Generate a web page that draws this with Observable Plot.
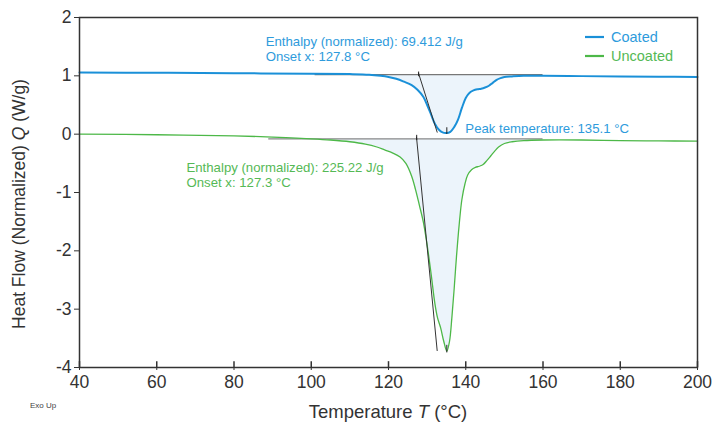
<!DOCTYPE html>
<html><head><meta charset="utf-8">
<script src="https://cdn.jsdelivr.net/npm/d3@7"></script>
<script src="https://cdn.jsdelivr.net/npm/@observablehq/plot@0.6"></script>
<style>body{margin:0;background:#fff}svg{display:block}</style>
</head><body><div id="chart"></div>
<script>
const xTicks = [40,60,80,100,120,140,160,180,200];
const yTicks = [-4,-3,-2,-1,0,1,2];
const seriesNames = ["Coated","Uncoated"];

const coatedT = [40,60,80,100,110,115,118,120,122,124,126,127.5,129,130,131,132,133,134,135,136,137,138,139,140,141,142,143,144,145,146,147,148,149,150,152,155,160,170,180,190,200];
const coatedQ = [1.058,1.052,1.045,1.035,1.03,1.02,1.00,0.98,0.95,0.90,0.84,0.76,0.64,0.50,0.34,0.18,0.08,0.03,0.02,0.04,0.12,0.25,0.45,0.62,0.71,0.75,0.77,0.78,0.80,0.83,0.88,0.93,0.96,0.98,0.99,1.00,1.00,0.995,0.99,0.985,0.98];

const uncoatedT = [40,60,80,90,100,105,110,114,117,119,121,123,124.5,126,127,128,129,130,131,132,132.7,133.5,134.3,135.1,135.8,136.4,137,137.6,138.3,139,139.8,140.5,141.5,142.5,143.5,144.5,145.5,146.5,147.5,148.5,150,152,155,160,170,180,190,200];
const uncoatedQ = [0.0,-0.01,-0.03,-0.05,-0.08,-0.10,-0.13,-0.17,-0.22,-0.27,-0.32,-0.39,-0.50,-0.72,-0.95,-1.22,-1.50,-1.90,-2.38,-2.90,-3.15,-3.32,-3.55,-3.72,-3.55,-3.15,-2.65,-2.10,-1.55,-1.12,-0.85,-0.70,-0.61,-0.57,-0.55,-0.52,-0.45,-0.37,-0.29,-0.22,-0.16,-0.13,-0.11,-0.10,-0.10,-0.11,-0.115,-0.12];

// integration baselines [T start, T end, Q level]
const coatedBaseline = [101, 160, 1.022];
const uncoatedBaseline = [89, 160, -0.082];
// onset tangent lines [[T,Q],[T,Q]]
const coatedTangent = [[127.77,1.046],[132.6,0.034]];
const uncoatedTangent = [[127.25,-0.05],[132.6,-3.71]];
const peakT = 135.1;
const coatedPeakTick = [0.11,-0.005];
const uncoatedPeakTick = [-3.62,-3.75];
const coatedOnsetTick = [127.8, 1.065, 0.985];
const uncoatedOnsetTick = [127.3, -0.02, -0.11];

const coatedText = "Enthalpy (normalized): 69.412 J/g\nOnset x: 127.8 °C";
const uncoatedText = "Enthalpy (normalized): 225.22 J/g\nOnset x: 127.3 °C";
const peakText = "Peak temperature: 135.1 °C";

const blue = "#1a90d8", green = "#4db848";
const blueText = "#2e9bdc", greenText = "#55b955";

const coated = coatedT.map((t,i)=>({T:t,Q:coatedQ[i]}));
const uncoated = uncoatedT.map((t,i)=>({T:t,Q:uncoatedQ[i]}));
const cFill = coated.filter(d=>d.T>=coatedBaseline[0]&&d.T<=coatedBaseline[1]).map(d=>({T:d.T,Q:d.Q,B:coatedBaseline[2]}));
const uFill = uncoated.filter(d=>d.T>=uncoatedBaseline[0]&&d.T<=uncoatedBaseline[1]).map(d=>({T:d.T,Q:d.Q,B:uncoatedBaseline[2]}));

const plot = Plot.plot({
  width: 715, height: 426,
  marginLeft: 79, marginRight: 18, marginTop: 17, marginBottom: 59,
  style: {fontFamily: "'Liberation Sans', Arial, sans-serif", color: "#333", background: "#fff"},
  x: {domain: [40,200], label: null},
  y: {domain: [-4,2], label: null},
  marks: [
    Plot.areaY(cFill, {x:"T", y1:"B", y2:"Q", fill:"#eaf3fb", fillOpacity:0.9, curve:"catmull-rom"}),
    Plot.areaY(uFill, {x:"T", y1:"B", y2:"Q", fill:"#eaf3fb", fillOpacity:0.9, curve:"catmull-rom"}),
    Plot.ruleY([coatedBaseline[2]], {x1: coatedBaseline[0], x2: coatedBaseline[1], stroke:"#777", strokeWidth:1.3}),
    Plot.ruleY([uncoatedBaseline[2]], {x1: uncoatedBaseline[0], x2: uncoatedBaseline[1], stroke:"#888", strokeWidth:1.3}),
    Plot.line(coated, {x:"T", y:"Q", stroke: blue, strokeWidth: 2, curve:"catmull-rom"}),
    Plot.line(uncoated, {x:"T", y:"Q", stroke: green, strokeWidth: 1.3, curve:"catmull-rom"}),
    Plot.line(coatedTangent, {x: d=>d[0], y: d=>d[1], stroke:"#333", strokeWidth:1}),
    Plot.line(uncoatedTangent, {x: d=>d[0], y: d=>d[1], stroke:"#333", strokeWidth:1}),
    Plot.ruleX([peakT], {y1: coatedPeakTick[0], y2: coatedPeakTick[1], stroke:"#222", strokeWidth:1}),
    Plot.ruleX([peakT], {y1: uncoatedPeakTick[0], y2: uncoatedPeakTick[1], stroke:"#222", strokeWidth:1}),
    Plot.ruleX([coatedOnsetTick[0]], {y1: coatedOnsetTick[1], y2: coatedOnsetTick[2], stroke:"#222", strokeWidth:1}),
    Plot.ruleX([uncoatedOnsetTick[0]], {y1: uncoatedOnsetTick[1], y2: uncoatedOnsetTick[2], stroke:"#222", strokeWidth:1}),
    Plot.text([coatedText], {x: 88.2, y: 1.46, text: d=>d, textAnchor:"start", fill: blueText, fontSize: 13.2, lineHeight: 1.15}),
    Plot.text([uncoatedText], {x: 67.7, y: -0.69, text: d=>d, textAnchor:"start", fill: greenText, fontSize: 13.2, lineHeight: 1.15}),
    Plot.text([peakText], {x: 139.9, y: 0.098, text: d=>d, textAnchor:"start", fill: blueText, fontSize: 13.2}),
    Plot.frame({stroke:"#333", strokeWidth:1.5}),
    Plot.ruleX(xTicks, {y1: -4, y2: -3.9, stroke:"#333", strokeWidth:1.5}),
    Plot.axisX({ticks: xTicks, tickSize: 3, tickPadding: 5, fontSize: 17.5, label: null, fill:"#333", tickFormat: d => String(d)}),
    Plot.axisY({ticks: yTicks, tickSize: 5, tickPadding: 3, fontSize: 17.5, label: null, fill:"#333", tickFormat: d => String(d)})
  ]
});

const svg = d3.select(plot);
// axis titles
const xl = svg.append("text").attr("x", 388).attr("y", 418).attr("text-anchor","middle")
  .attr("font-size", 18.5).attr("fill", "#333");
xl.append("tspan").text("Temperature ");
xl.append("tspan").attr("font-style","italic").text("T");
xl.append("tspan").text(" (°C)");
const yl = svg.append("text").attr("transform","translate(25,204) rotate(-90)").attr("text-anchor","middle")
  .attr("font-size", 17.5).attr("fill", "#333");
yl.append("tspan").text("Heat Flow (Normalized) ");
yl.append("tspan").attr("font-style","italic").text("Q");
yl.append("tspan").text(" (W/g)");
svg.append("text").attr("x", 30).attr("y", 408).attr("text-anchor","start").attr("font-size", 8).attr("fill","#444").text("Exo Up");
// legend
const lg = svg.append("g").attr("text-anchor","start");
[[seriesNames[0], blue, blueText, 37],[seriesNames[1], green, greenText, 56]].forEach(([n,c,tc,y])=>{
  lg.append("line").attr("x1",585).attr("x2",604).attr("y1",y).attr("y2",y).attr("stroke",c).attr("stroke-width",2.2);
  lg.append("text").attr("x",611).attr("y",y).attr("dy","0.35em").attr("text-anchor","start").attr("font-size",14.5).attr("fill",tc).text(n);
});
document.getElementById("chart").appendChild(plot);
</script></body></html>
